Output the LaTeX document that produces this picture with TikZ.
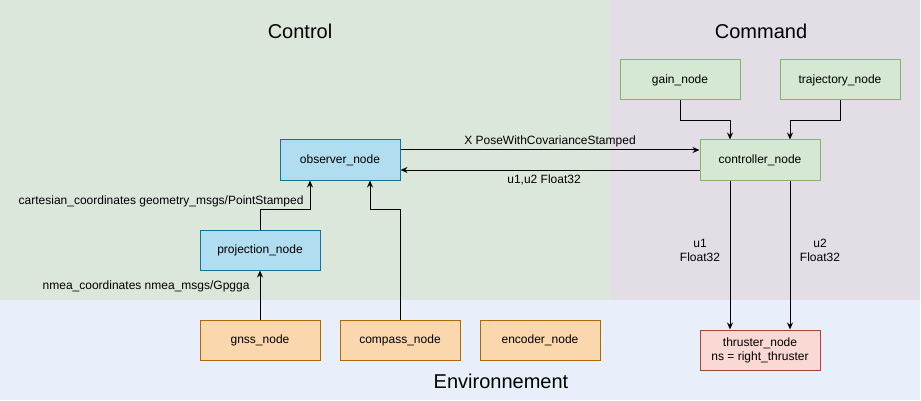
\documentclass[tikz,border=0pt]{standalone}
\usepackage{fontspec}
\setmainfont{Liberation Sans}
\usetikzlibrary{positioning,arrows.meta}

\definecolor{ctrlbg}{HTML}{DCE7DB}
\definecolor{cmdbg}{HTML}{E3DEE6}
\definecolor{envbg}{HTML}{E9EFFA}
\definecolor{bluefill}{HTML}{B1DDF0}
\definecolor{bluedraw}{HTML}{10739E}
\definecolor{greenfill}{HTML}{D5E8D4}
\definecolor{greendraw}{HTML}{82B366}
\definecolor{orangefill}{HTML}{FAD7AC}
\definecolor{orangedraw}{HTML}{B46504}
\definecolor{redfill}{HTML}{FAD9D5}
\definecolor{reddraw}{HTML}{AE4132}

\begin{document}
\begin{tikzpicture}[x=1pt, y=-1pt, line width=1pt, >={Stealth[length=7pt,width=6pt]}]
        % Box sizes
        \pgfmathsetmacro{\boxw}{120}
        \pgfmathsetmacro{\boxh}{40}
        \pgfmathsetmacro{\offs}{30}

        % Looks of the boxes and texts
        \tikzset{
            rosnode/.style={draw, minimum width=\boxw pt, minimum height=\boxh pt,
                inner sep=0pt, align=center, font=\fontsize{12}{14}\selectfont},
            observnode/.style={rosnode, fill=bluefill, draw=bluedraw},
            cmdnode/.style={rosnode, fill=greenfill, draw=greendraw},
            sensnode/.style={rosnode, fill=orangefill, draw=orangedraw},
            actnode/.style={rosnode, fill=redfill, draw=reddraw},
            zonetitle/.style={font=\fontsize{20}{23}\selectfont},
            topic/.style={font=\fontsize{12}{14}\selectfont, inner sep=0pt, align=center},
            link/.style={->, line width=1pt},
        }

        \useasboundingbox (0, 0) rectangle (921, 401);

        % Zones in the background
        \begin{scope}[line width=0pt]
            \fill [ctrlbg] (0, 0) rectangle (610, 300);
            \fill [cmdbg] (610, 0) rectangle (920, 300);
            \fill [envbg] (0, 300) rectangle (920, 400);
            \node (T1) at (300, 31) [zonetitle] {Control};
            \node (T2) at (761, 31) [zonetitle] {Command};
            \node (T3) at (501, 381) [zonetitle] {Environnement};
        \end{scope}

        % ROS nodes
        \node (observer) at (340, 160) [observnode] {observer\_node};
        \node (projection) at (260, 250) [observnode] {projection\_node};
        \node (gain) at (680, 80) [cmdnode] {gain\_node};
        \node (trajectory) at (840, 80) [cmdnode] {trajectory\_node};
        \node (controller) at (760, 160) [cmdnode] {controller\_node};
        \node (gnss) at (260, 340) [sensnode] {gnss\_node};
        \node (compass) at (400, 340) [sensnode] {compass\_node};
        \node (encoder) at (540, 340) [sensnode] {encoder\_node};
        \node (thruster) at (760, 350) [actnode] {thruster\_node\\ns = right\_thruster};

        % Topics
        \begin{scope}[link]
            \draw ([yshift=10pt]observer.east) -- ([yshift=10pt]controller.west)
                node (L1) [topic, pos=0.5, above=3pt] {X PoseWithCovarianceStamped};
            \draw ([yshift=-10pt]controller.west) -- ([yshift=-10pt]observer.east)
                node (L2) [topic, pos=0.52, below=4pt] {u1,u2 Float32};
            \draw (gain.south) -- ++(0, 20) -| ([xshift=-\offs pt]controller.north);
            \draw (trajectory.south) -- ++(0, 20) -| ([xshift=\offs pt]controller.north);
            \draw (projection.north) -- ++(0, -20) -| ([xshift=-\offs pt]observer.south);
            \draw (compass.north) -- ++(0, -110) -| ([xshift=\offs pt]observer.south);
            \draw (gnss.north) -- (projection.south);
            \draw ([xshift=-\offs pt]controller.south) -- ([xshift=-\offs pt]thruster.north);
            \draw ([xshift=\offs pt]controller.south) -- ([xshift=\offs pt]thruster.north);
        \end{scope}

        % Labels of the other topics
        \node (L3) at (304, 201) [topic, anchor=east] {cartesian\_coordinates geometry\_msgs/PointStamped};
        \node (L4) at (250, 286) [topic, anchor=east] {nmea\_coordinates nmea\_msgs/Gpgga};
        \node (L5) at (700, 250) [topic] {u1\\Float32};
        \node (L6) at (820, 250) [topic] {u2\\Float32};
\end{tikzpicture}
\end{document}
